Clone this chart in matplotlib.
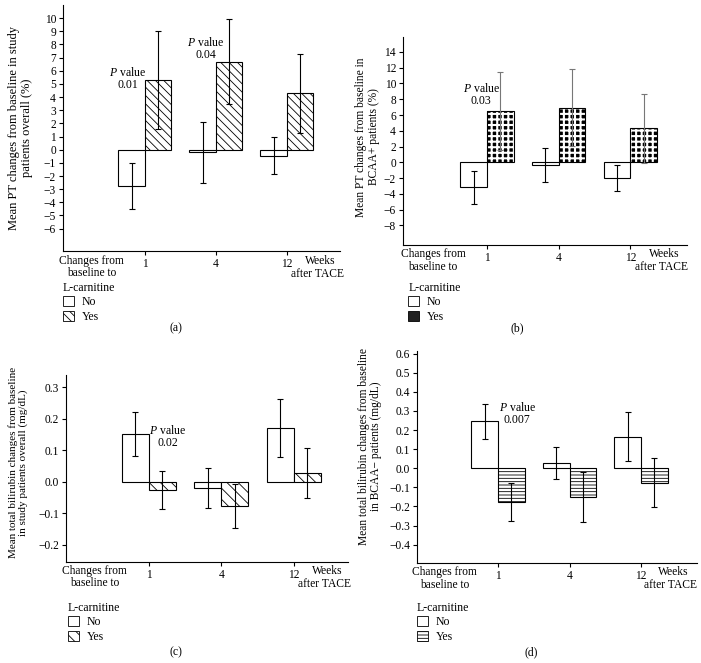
import matplotlib
matplotlib.use("Agg")
import matplotlib.pyplot as plt
from matplotlib.patches import Patch
from matplotlib.ticker import FuncFormatter
import matplotlib.transforms as mtransforms

plt.rcParams['font.family'] = ['Liberation Serif', 'DejaVu Serif']
plt.rcParams['mathtext.fontset'] = 'custom'
plt.rcParams['mathtext.rm'] = 'Liberation Serif'
plt.rcParams['mathtext.it'] = 'Liberation Serif:italic'
plt.rcParams['hatch.linewidth'] = 0.6
FS = 8.5
TFS = 8.3

# ---------------- data ----------------
weeks = ['1', '4', '12']

# (a) Mean PT changes, study patients overall (%)
a_no = [-2.75, -0.2, -0.45]
a_no_err = [1.75, 2.3, 1.4]
a_yes = [5.3, 6.7, 4.3]
a_yes_err = [3.7, 3.25, 3.0]
a_pvals = ['0.01', '0.04']

# (b) Mean PT changes, BCAA+ patients (%)
b_no = [-3.2, -0.35, -1.95]
b_no_err = [2.1, 2.15, 1.65]
b_yes = [6.5, 6.95, 4.3]
b_yes_err = [4.95, 4.9, 4.4]
b_pvals = ['0.03']

# (c) Mean total bilirubin changes, study patients overall (mg/dL)
c_no = [0.152, -0.019, 0.171]
c_no_err = [0.07, 0.064, 0.092]
c_yes = [-0.027, -0.077, 0.028]
c_yes_err = [0.061, 0.069, 0.08]
c_pvals = ['0.02']

# (d) Mean total bilirubin changes, BCAA- patients (mg/dL)
d_no = [0.245, 0.027, 0.164]
d_no_err = [0.09, 0.083, 0.128]
d_yes = [-0.176, -0.15, -0.075]
d_yes_err = [0.1, 0.131, 0.128]
d_pvals = ['0.007']

# ---------------- figure ----------------
fig = plt.figure(figsize=(7.01, 6.63), dpi=100)

W = 0.373
xpos = [1, 2, 3]
ptexts_vals = {'a': a_pvals, 'b': b_pvals, 'c': c_pvals, 'd': d_pvals}


def minus_fmt(dec):
    def f(v, p):
        s = f"{v:.{dec}f}"
        if s in ('-0.0', '-0'):
            s = s[1:]
        if s.startswith('-'):
            s = '\u2212' + s[1:]
        return s
    return FuncFormatter(f)


def panel(rect, no, no_err, yes, yes_err, ylim, yticks, dec, hatch, ylabel, ylfs,
          label_xy, xlim, ptexts, legy, legx, tag, tagxy, weeks_x,
          checker=False, yes_errcolor='black'):
    ax = fig.add_axes(rect)
    xn = [x - W / 2 for x in xpos]
    xy = [x + W / 2 for x in xpos]
    ax.bar(xn, no, W, facecolor='white', edgecolor='black', linewidth=0.8, zorder=2)
    if checker:
        bb = ax.bar(xy, yes, W, facecolor='black', edgecolor='white', linewidth=0,
                    hatch='+++', zorder=2)
        for p in bb:
            if hasattr(p, 'set_hatch_linewidth'):
                p.set_hatch_linewidth(1.5)
        ax.bar(xy, yes, W, fill=False, edgecolor='black', linewidth=0.8, zorder=2.1)
    else:
        ax.bar(xy, yes, W, facecolor='white', edgecolor='black', linewidth=0.8,
               hatch=hatch, zorder=2)
    ax.errorbar(xn, no, yerr=no_err, fmt='none', ecolor='black', elinewidth=0.8,
                capsize=2, capthick=0.8, zorder=3)
    ax.errorbar(xy, yes, yerr=yes_err, fmt='none', ecolor=yes_errcolor, elinewidth=0.8,
                capsize=2, capthick=0.8, zorder=3)
    ax.set_xlim(*xlim)
    ax.set_ylim(*ylim)
    ax.set_yticks(yticks)
    ax.yaxis.set_major_formatter(minus_fmt(dec))
    ax.set_xticks(xpos)
    ax.set_xticklabels(weeks)
    for s in ('top', 'right'):
        ax.spines[s].set_visible(False)
    for s in ('left', 'bottom'):
        ax.spines[s].set_linewidth(0.8)
    ax.tick_params(labelsize=TFS, width=0.8, length=3, pad=2)
    lab = ax.set_ylabel(ylabel, fontsize=ylfs, linespacing=1.1)
    lab.set_va('center')
    ax.yaxis.set_label_coords(*label_xy)
    trans = mtransforms.blended_transform_factory(ax.transData, ax.transAxes)
    ax.text(0.25, -0.016, 'Changes from\nbaseline to', transform=trans, ha='center',
            va='top', fontsize=TFS, linespacing=1.05)
    wt = ax.text(weeks_x + 0.05, -0.016, 'Weeks', transform=trans, ha='center',
                 va='top', fontsize=TFS)
    ax.annotate('after TACE', xy=(0.5, 0), xycoords=wt, xytext=(-2, -0.5),
                textcoords='offset points', ha='center', va='top', fontsize=TFS)
    for (px, py), pv in zip(ptexts, ptexts_vals[tag]):
        ax.text(px, py, '$\\it{P}$ value\n' + pv, ha='center', va='center',
                fontsize=FS, linespacing=1.0)
    if checker:
        yes_h = Patch(facecolor='#222222', edgecolor='black', linewidth=0.6)
    else:
        yes_h = Patch(facecolor='white', edgecolor='black', linewidth=0.6, hatch=hatch)
    ax.legend([Patch(facecolor='white', edgecolor='black', linewidth=0.6), yes_h],
              ['No', 'Yes'], title='L-carnitine', loc='upper left',
              bbox_to_anchor=(legx, legy), frameon=False, fontsize=FS,
              title_fontsize=FS, alignment='left', handlelength=0.9,
              handleheight=0.9, handletextpad=0.7, labelspacing=0.2,
              borderpad=0, borderaxespad=0)
    fig.text(tagxy[0] / 701, 1 - tagxy[1] / 663, '(' + tag + ')', ha='center',
             va='center', fontsize=FS)
    return ax


panel([63 / 701, 1 - 251 / 663, 277 / 701, 246 / 663], a_no, a_no_err, a_yes, a_yes_err,
      (-7.7, 11.0), list(range(-6, 11)), 0, '\\\\\\\\',
      'Mean PT changes from baseline in study\npatients overall (%)', 9,
      (-0.155, 0.5), (-0.155, 3.75), [(0.76, 5.45), (1.86, 7.7)], -0.126, 0.0,
      'a', (176, 328), 3.42)

panel([403 / 701, 1 - 245 / 663, 284 / 701, 208 / 663], b_no, b_no_err, b_yes, b_yes_err,
      (-10.5, 15.9), list(range(-8, 15, 2)), 0, None,
      'Mean PT changes from baseline in\nBCAA+ patients (%)', 8.3,
      (-0.124, 0.52), (-0.17, 3.79), [(0.92, 8.55)], -0.178, 0.018,
      'b', (517, 328), 3.42, checker=True, yes_errcolor='#777777')

panel([66 / 701, 1 - 562 / 663, 282 / 701, 187 / 663], c_no, c_no_err, c_yes, c_yes_err,
      (-0.255, 0.339), [-0.2, -0.1, 0.0, 0.1, 0.2, 0.3], 1, '\\\\\\',
      'Mean total bilirubin changes from baseline\nin study patients overall (mg/dL)', 8,
      (-0.17, 0.53), (-0.145, 3.75), [(1.26, 0.143)], -0.214, 0.007,
      'c', (176, 652), 3.42)

panel([417 / 701, 1 - 563 / 663, 280 / 701, 212 / 663], d_no, d_no_err, d_yes, d_yes_err,
      (-0.496, 0.614), [-0.4, -0.3, -0.2, -0.1, 0.0, 0.1, 0.2, 0.3, 0.4, 0.5, 0.6], 1,
      '-----',
      'Mean total bilirubin changes from baseline\nin BCAA\u2212 patients (mg/dL)', 8.3,
      (-0.168, 0.55), (-0.13, 3.78), [(1.27, 0.286)], -0.184, 0.0,
      'd', (531, 652), 3.4)

fig.savefig('out.png', dpi=100, facecolor='white')
